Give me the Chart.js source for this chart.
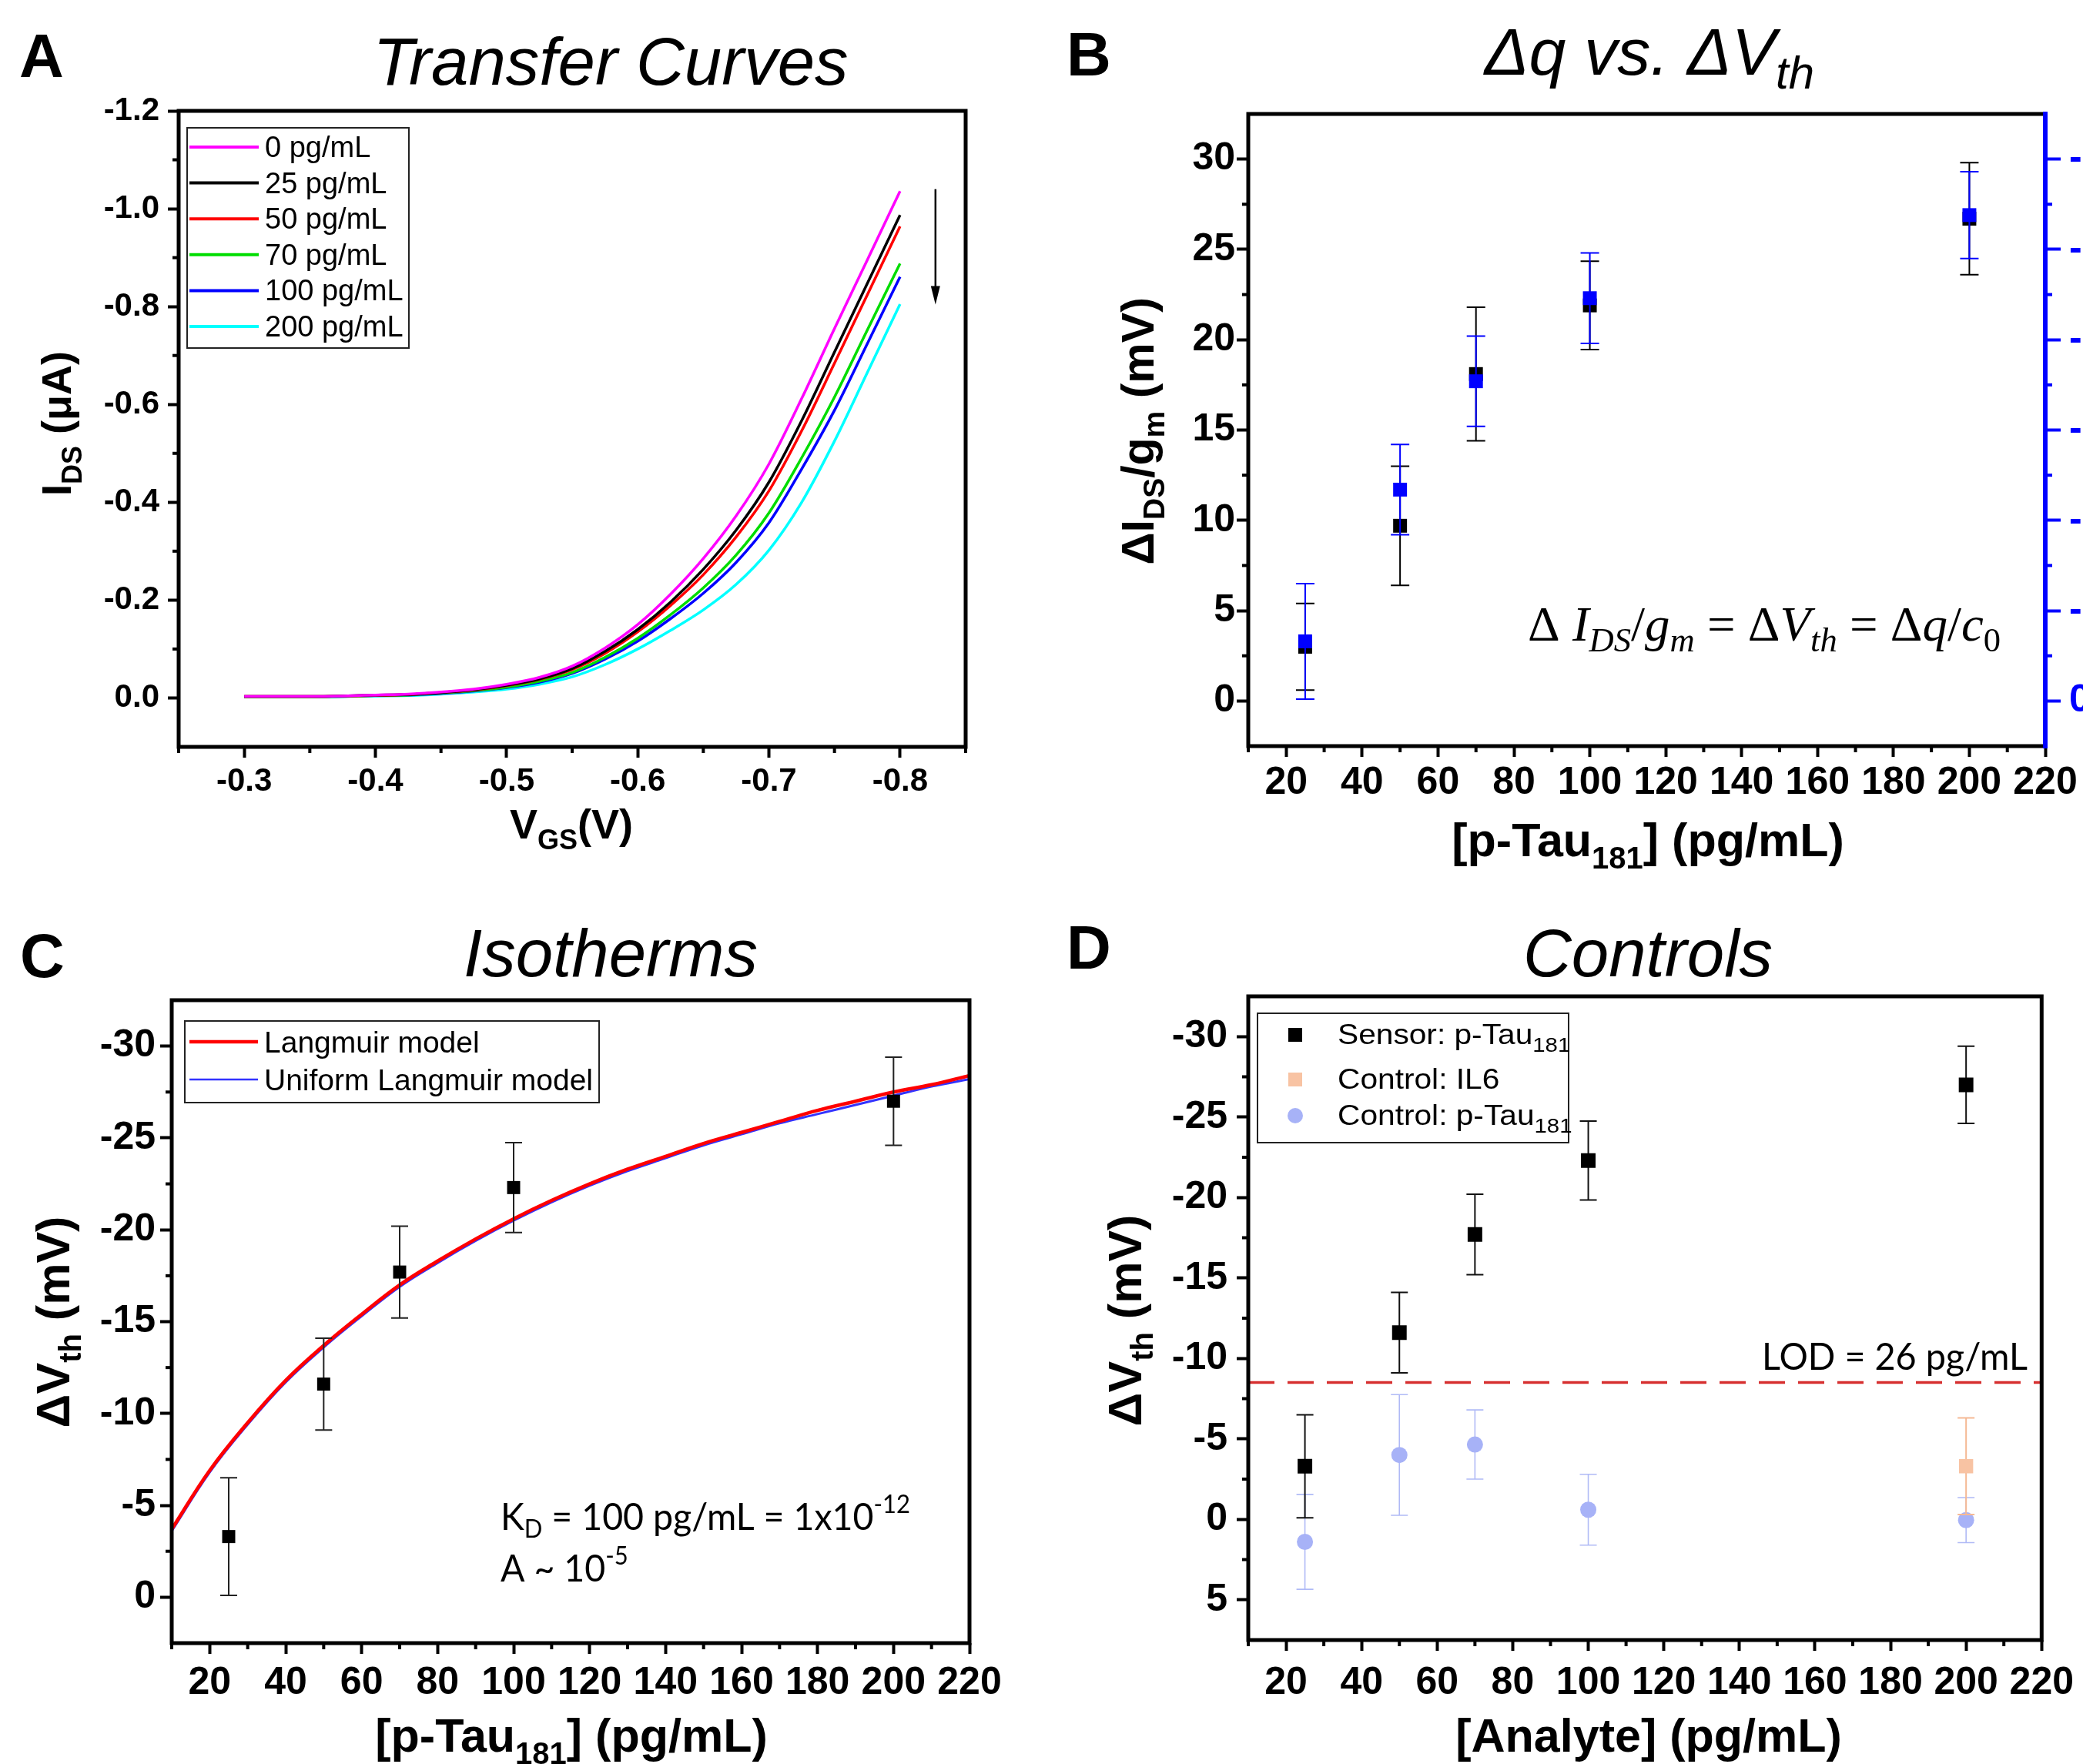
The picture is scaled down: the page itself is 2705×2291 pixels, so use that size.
<!DOCTYPE html>
<html lang="en">
<head>
  <meta charset="UTF-8" />
  <title>p-Tau181 sensor: transfer curves, isotherms and controls</title>
  <script src="https://cdn.jsdelivr.net/npm/chart.js"></script>
  <style>
    html, body { margin: 0; padding: 0; background: #fff; }
    body { width: 2705px; height: 2291px; position: relative; overflow: hidden; }
    canvas { position: absolute; }
  </style>
</head>
<body>
  <canvas id="panel-a" width="1352" height="1150" style="left:0;top:0"></canvas>
  <canvas id="panel-b" width="1353" height="1150" style="left:1352px;top:0"></canvas>
  <canvas id="panel-c" width="1352" height="1141" style="left:0;top:1150px"></canvas>
  <canvas id="panel-d" width="1353" height="1141" style="left:1352px;top:1150px"></canvas>

  <script>
    // ---- A: transfer curves (I_DS in uA vs V_GS in V) ----
    const vgs    = [-0.300, -0.325, -0.350, -0.375, -0.400, -0.425, -0.450, -0.475, -0.500, -0.525, -0.550,
                    -0.575, -0.600, -0.625, -0.650, -0.675, -0.700, -0.725, -0.750, -0.775, -0.800];
    const ids0   = [-0.003, -0.003, -0.003, -0.004, -0.006, -0.008, -0.012, -0.018, -0.028, -0.042, -0.065,
                    -0.102, -0.150, -0.212, -0.285, -0.372, -0.478, -0.612, -0.755, -0.895, -1.036];
    const ids25  = [-0.003, -0.003, -0.003, -0.004, -0.006, -0.007, -0.011, -0.017, -0.026, -0.039, -0.060,
                    -0.095, -0.140, -0.196, -0.263, -0.343, -0.441, -0.567, -0.707, -0.847, -0.987];
    const ids50  = [-0.003, -0.003, -0.003, -0.004, -0.005, -0.007, -0.011, -0.016, -0.025, -0.038, -0.058,
                    -0.091, -0.135, -0.189, -0.252, -0.329, -0.423, -0.546, -0.684, -0.824, -0.964];
    const ids70  = [-0.002, -0.002, -0.002, -0.003, -0.005, -0.006, -0.010, -0.015, -0.022, -0.034, -0.052,
                    -0.083, -0.122, -0.170, -0.225, -0.292, -0.378, -0.491, -0.615, -0.752, -0.888];
    const ids100 = [-0.002, -0.002, -0.002, -0.003, -0.005, -0.006, -0.009, -0.014, -0.021, -0.032, -0.050,
                    -0.079, -0.116, -0.162, -0.214, -0.277, -0.358, -0.468, -0.588, -0.724, -0.861];
    const ids200 = [-0.002, -0.002, -0.002, -0.003, -0.004, -0.005, -0.008, -0.012, -0.018, -0.028, -0.043,
                    -0.068, -0.100, -0.138, -0.180, -0.232, -0.302, -0.400, -0.525, -0.665, -0.805];
    const curveLabels = ["0 pg/mL", "25 pg/mL", "50 pg/mL", "70 pg/mL", "100 pg/mL", "200 pg/mL"];
    const curveColors = ["#ff00ff", "#000000", "#ff0000", "#00dd00", "#0000ff", "#00ffff"];
    const vgsTicks = [-0.3, -0.4, -0.5, -0.6, -0.7, -0.8];
    const vgsMinor = [-0.25, -0.35, -0.45, -0.55, -0.65, -0.75, -0.85];
    const idsTicks = [-1.2, -1.0, -0.8, -0.6, -0.4, -0.2, 0.0];
    const idsMinor = [-1.1, -0.9, -0.7, -0.5, -0.3, -0.1];
    const arrowV = -0.827, arrowFrom = -1.04, arrowTo = -0.804;

    // ---- B: dI/gm and dVth vs concentration ----
    const conc = [25, 50, 70, 100, 200];
    const idsGm    = [3.0, 9.7, 18.1, 21.9, 26.7];
    const idsGmErr = [2.4, 3.3, 3.7, 2.45, 3.1];
    const vthB     = [-3.3, -11.7, -17.7, -22.3, -26.9];
    const vthBErr  = [3.2, 2.5, 2.5, 2.5, 2.4];
    const concTicks = [20, 40, 60, 80, 100, 120, 140, 160, 180, 200, 220];
    const concMinor = [10, 30, 50, 70, 90, 110, 130, 150, 170, 190, 210];
    const bLeftTicks = [0, 5, 10, 15, 20, 25, 30];
    const bLeftMinor = [2.5, 7.5, 12.5, 17.5, 22.5, 27.5];
    const bRightTicks = [-30, -25, -20, -15, -10, -5, 0];
    const bRightMinor = [-27.5, -22.5, -17.5, -12.5, -7.5, -2.5];

    // ---- C: isotherm fits ----
    const sensorVth    = [-3.3, -11.6, -17.7, -22.3, -27.0];
    const sensorVthErr = [3.2, 2.5, 2.5, 2.45, 2.4];
    const fitConc   = [10, 20, 30, 40, 50, 60, 70, 80, 90, 100, 110, 120, 130, 140, 150, 160, 170, 180, 190, 200, 210, 220];
    const langmuir  = [-3.7, -6.9, -9.5, -11.8, -13.7, -15.4, -17.0, -18.3, -19.5, -20.6, -21.6, -22.5, -23.3, -24.0, -24.7, -25.3, -25.9, -26.5, -27.0, -27.5, -27.9, -28.4];
    const uniformLm = [-3.6, -6.8, -9.4, -11.7, -13.6, -15.3, -16.9, -18.2, -19.4, -20.5, -21.5, -22.4, -23.2, -23.9, -24.6, -25.2, -25.8, -26.3, -26.8, -27.3, -27.8, -28.2];
    const cTicks = [-30, -25, -20, -15, -10, -5, 0];
    const cMinor = [-27.5, -22.5, -17.5, -12.5, -7.5, -2.5];

    // ---- D: controls ----
    const il6Conc = [200];
    const il6Vth = [-3.3];
    const il6Err = [3.0];
    const ctrlVth = [1.4, -4.0, -4.65, -0.6, 0.05];
    const ctrlErr = [2.95, 3.75, 2.15, 2.2, 1.4];
    const lodConc = [10, 220];
    const lodVth = -8.5;
    const dTicks = [-30, -25, -20, -15, -10, -5, 0, 5];
    const dMinor = [-27.5, -22.5, -17.5, -12.5, -7.5, -2.5, 2.5];

    const SANS = "'Liberation Sans', Arial, sans-serif";
    const CALI = "Lato, 'Open Sans', sans-serif";
    const SERIF = "'Liberation Serif', 'Times New Roman', serif";
    const font = (size, style = "", fam = SANS) => `${style} ${size}px ${fam}`;
    Chart.defaults.font.family = SANS;

    const pts = (xs, ys) => xs.map((x, i) => ({ x, y: ys[i] }));

    // text in pieces, so sub/superscripts can be shifted
    function rich(ctx, segs, x, y, o = {}) {
      let w = 0;
      segs.forEach(s => { ctx.font = s.f; s.w = ctx.measureText(s.t).width; w += s.w; });
      const k = o.width ? o.width / w : (o.sx || 1);
      ctx.save();
      ctx.translate(x, y);
      if (o.rotate) ctx.rotate(o.rotate);
      ctx.scale(k, 1);
      let cx = o.align === "center" ? -w / 2 : o.align === "right" ? -w : 0;
      ctx.fillStyle = o.color || "#000";
      ctx.textAlign = "left";
      ctx.textBaseline = "alphabetic";
      segs.forEach(s => { ctx.font = s.f; ctx.fillText(s.t, cx, s.dy || 0); cx += s.w; });
      ctx.restore();
      return k;
    }

    const framePlugin = {
      id: "frame",
      afterDraw(chart, args, opts) {
        const { ctx, chartArea: a } = chart;
        ctx.save();
        (opts.minor || []).forEach(m => {
          const s = chart.scales[m.axis];
          ctx.strokeStyle = m.color || "#000";
          ctx.lineWidth = m.width || 4;
          m.values.forEach(v => {
            const p = s.getPixelForValue(v);
            ctx.beginPath();
            if (s.position === "left") { ctx.moveTo(a.left - m.len, p); ctx.lineTo(a.left, p); }
            else if (s.position === "right") { ctx.moveTo(a.right, p); ctx.lineTo(a.right + m.len, p); }
            else { ctx.moveTo(p, a.bottom); ctx.lineTo(p, a.bottom + m.len); }
            ctx.stroke();
          });
        });
        ctx.strokeStyle = "#000";
        ctx.lineWidth = 5;
        ctx.strokeRect(a.left, a.top, a.right - a.left, a.bottom - a.top);
        if (opts.rightColor) {
          ctx.strokeStyle = opts.rightColor;
          ctx.lineWidth = 6;
          ctx.beginPath();
          ctx.moveTo(a.right, a.top - 3);
          ctx.lineTo(a.right, a.bottom + 3);
          ctx.stroke();
        }
        ctx.restore();
      }
    };

    const errorBarPlugin = {
      id: "errorBars",
      beforeDatasetDraw(chart, args) {
        const ds = chart.data.datasets[args.index];
        if (!ds.errors) return;
        const xs = chart.scales[args.meta.xAxisID];
        const ys = chart.scales[args.meta.yAxisID];
        const ctx = chart.ctx;
        const c = ds.capWidth / 2;
        ctx.save();
        ctx.strokeStyle = ds.errorColor;
        ctx.lineWidth = ds.errorWidth;
        ds.data.forEach((p, i) => {
          const x = xs.getPixelForValue(p.x);
          const y1 = ys.getPixelForValue(p.y - ds.errors[i]);
          const y2 = ys.getPixelForValue(p.y + ds.errors[i]);
          ctx.beginPath();
          ctx.moveTo(x, y1); ctx.lineTo(x, y2);
          ctx.moveTo(x - c, y1); ctx.lineTo(x + c, y1);
          ctx.moveTo(x - c, y2); ctx.lineTo(x + c, y2);
          ctx.stroke();
        });
        ctx.restore();
      }
    };

    Chart.register(framePlugin, errorBarPlugin);

    function axis(o) {
      return {
        type: "linear",
        position: o.position,
        min: o.min,
        max: o.max,
        reverse: !!o.reverse,
        afterBuildTicks: s => { s.ticks = o.ticks.map(value => ({ value })); },
        afterFit: s => { if (s.isHorizontal()) s.height = o.size; else s.width = o.size; },
        grid: {
          drawOnChartArea: false,
          drawTicks: true,
          tickLength: o.tickLength || 15,
          tickWidth: 4,
          tickColor: o.color || "#000"
        },
        border: { display: false },
        ticks: {
          color: o.color || "#000",
          font: { family: SANS, weight: "bold", size: o.fontSize },
          padding: o.padding,
          autoSkip: false,
          maxRotation: 0,
          callback: o.fmt || (v => String(v))
        }
      };
    }

    function options(pad, scales, frame) {
      return {
        responsive: false,
        animation: false,
        devicePixelRatio: 1,
        events: [],
        layout: { padding: pad },
        plugins: { legend: { display: false }, tooltip: { enabled: false }, frame },
        scales
      };
    }

    const concAxis = padding => axis({
      position: "bottom", min: 10, max: 220, ticks: concTicks, size: 100,
      fontSize: 50, padding, tickLength: 14
    });

    // ================= A =================
    const idsSeries = [ids0, ids25, ids50, ids70, ids100, ids200];
    new Chart(document.getElementById("panel-a"), {
      type: "scatter",
      data: {
        datasets: idsSeries.map((ys, i) => ({
          label: curveLabels[i],
          data: pts(vgs, ys),
          showLine: true,
          borderColor: curveColors[i],
          borderWidth: 3.5,
          pointRadius: 0,
          cubicInterpolationMode: "monotone"
        }))
      },
      options: options(
        { left: 112, top: 144, right: 98, bottom: 80 },
        {
          x: axis({ position: "bottom", min: -0.85, max: -0.25, reverse: true, ticks: vgsTicks,
                    size: 100, fontSize: 42, padding: 6, tickLength: 14, fmt: v => v.toFixed(1) }),
          y: axis({ position: "left", min: -1.2, max: 0.1, reverse: true, ticks: idsTicks,
                    size: 120, fontSize: 42, padding: 11, tickLength: 14, fmt: v => v.toFixed(1) })
        },
        { minor: [{ axis: "x", values: vgsMinor, len: 8 }, { axis: "y", values: idsMinor, len: 8 }] }
      ),
      plugins: [{
        id: "decorA",
        afterDraw(chart) {
          const ctx = chart.ctx;
          const B54 = font(54, "bold"), B36 = font(36, "bold");
          rich(ctx, [{ t: "A", f: font(80, "bold") }], 25, 100);
          rich(ctx, [{ t: "Transfer Curves", f: font(87, "italic") }], 793, 110, { align: "center" });
          rich(ctx, [{ t: "V", f: B54 }, { t: "GS", f: B36, dy: 14 }, { t: "(V)", f: B54 }], 742, 1089, { align: "center" });
          rich(ctx, [{ t: "I", f: B54 }, { t: "DS", f: B36, dy: 14 }, { t: " (\u03bcA)", f: B54 }], 92, 550,
               { align: "center", rotate: -Math.PI / 2 });

          // legend
          ctx.save();
          ctx.fillStyle = "#fff";
          ctx.fillRect(243, 166, 288, 286);
          ctx.strokeStyle = "#222";
          ctx.lineWidth = 2;
          ctx.strokeRect(243, 166, 288, 286);
          chart.data.datasets.forEach((ds, i) => {
            const y = 191 + i * 46.6;
            ctx.strokeStyle = ds.borderColor;
            ctx.lineWidth = 4;
            ctx.beginPath(); ctx.moveTo(246, y); ctx.lineTo(336, y); ctx.stroke();
            rich(ctx, [{ t: ds.label, f: font(38) }], 344, y + 13);
          });

          // arrow: decreasing current with concentration
          const xs = chart.scales.x, ys = chart.scales.y;
          const ax = xs.getPixelForValue(arrowV);
          const y1 = ys.getPixelForValue(arrowFrom), y2 = ys.getPixelForValue(arrowTo);
          ctx.strokeStyle = "#000"; ctx.fillStyle = "#000"; ctx.lineWidth = 2.5;
          ctx.beginPath(); ctx.moveTo(ax, y1); ctx.lineTo(ax, y2 - 20); ctx.stroke();
          ctx.beginPath(); ctx.moveTo(ax - 6, y2 - 24); ctx.lineTo(ax + 6, y2 - 24); ctx.lineTo(ax, y2); ctx.closePath(); ctx.fill();
          ctx.restore();
        }
      }]
    });

    // ================= B =================
    new Chart(document.getElementById("panel-b"), {
      type: "scatter",
      data: {
        datasets: [
          {
            label: "dVth", data: pts(conc, vthB), yAxisID: "y1",
            pointStyle: "rect", pointRadius: 12.7, backgroundColor: "#0000ff", borderColor: "#0000ff", pointBorderWidth: 0,
            errors: vthBErr, errorColor: "#0000ff", errorWidth: 2, capWidth: 24
          },
          {
            label: "dIds/gm", data: pts(conc, idsGm), yAxisID: "y",
            pointStyle: "rect", pointRadius: 12.7, backgroundColor: "#000", borderColor: "#000", pointBorderWidth: 0,
            errors: idsGmErr, errorColor: "#000", errorWidth: 2, capWidth: 24
          }
        ]
      },
      options: options(
        { left: 149, top: 148, right: 0, bottom: 81 },
        {
          x: concAxis(4),
          y: axis({ position: "left", min: -2.5, max: 32.5, ticks: bLeftTicks, size: 120, fontSize: 50, padding: 2, tickLength: 15 }),
          y1: axis({ position: "right", min: -32.5, max: 2.5, reverse: true, ticks: bRightTicks, size: 49,
                     fontSize: 50, padding: 11, tickLength: 20, color: "#0000ff" })
        },
        {
          minor: [
            { axis: "x", values: concMinor, len: 8 },
            { axis: "y", values: bLeftMinor, len: 8 },
            { axis: "y1", values: bRightMinor, len: 9, color: "#0000ff" }
          ],
          rightColor: "#0000ff"
        }
      ),
      plugins: [{
        id: "decorB",
        afterDraw(chart) {
          const ctx = chart.ctx;
          const B61 = font(61, "bold"), B40 = font(40, "bold");
          const B59 = font(59, "bold"), B39 = font(39, "bold");
          rich(ctx, [{ t: "B", f: font(80, "bold") }], 33, 98);
          rich(ctx, [{ t: "\u0394q vs. \u0394V", f: font(86, "italic") }, { t: "th", f: font(60, "italic"), dy: 18 }],
               790, 97, { align: "center" });
          rich(ctx, [{ t: "[p-Tau", f: B61 }, { t: "181", f: B40, dy: 16 }, { t: "] (pg/mL)", f: B61 }], 788, 1112, { align: "center" });
          rich(ctx, [{ t: "\u0394I", f: B59 }, { t: "DS", f: B39, dy: 14 }, { t: "/g", f: B59 }, { t: "m", f: B39, dy: 14 },
                     { t: " (mV)", f: B59 }], 146, 560, { align: "center", rotate: -Math.PI / 2 });
          const S = font(64, "", SERIF), SI = font(64, "italic", SERIF);
          const s = font(44, "", SERIF), si = font(44, "italic", SERIF);
          rich(ctx, [
            { t: "\u0394 ", f: S }, { t: "I", f: SI }, { t: "DS", f: si, dy: 14 }, { t: "/", f: S }, { t: "g", f: SI },
            { t: "m", f: si, dy: 14 }, { t: " = ", f: S }, { t: "\u0394", f: S }, { t: "V", f: SI }, { t: "th", f: si, dy: 14 },
            { t: " = ", f: S }, { t: "\u0394", f: S }, { t: "q", f: SI }, { t: "/", f: S }, { t: "c", f: SI }, { t: "0", f: s, dy: 14 }
          ], 632, 832, { width: 614 });
        }
      }]
    });

    // ================= C =================
    new Chart(document.getElementById("panel-c"), {
      type: "scatter",
      data: {
        datasets: [
          {
            label: "data", data: pts(conc, sensorVth),
            pointStyle: "rect", pointRadius: 12, backgroundColor: "#000", borderColor: "#000", pointBorderWidth: 0,
            errors: sensorVthErr, errorColor: "#222", errorWidth: 2, capWidth: 22
          },
          {
            label: "Langmuir model", data: pts(fitConc, langmuir), showLine: true,
            borderColor: "#ff0000", borderWidth: 4.5, pointRadius: 0, tension: 0.4
          },
          {
            label: "Uniform Langmuir model", data: pts(fitConc, uniformLm), showLine: true,
            borderColor: "#3333ff", borderWidth: 3, pointRadius: 0, tension: 0.4
          }
        ]
      },
      options: options(
        { left: 103, top: 149, right: 93, bottom: 57 },
        {
          x: concAxis(8),
          y: axis({ position: "left", min: -32.5, max: 2.5, reverse: true, ticks: cTicks, size: 120, fontSize: 50, padding: 6, tickLength: 15 })
        },
        { minor: [{ axis: "x", values: concMinor, len: 8 }, { axis: "y", values: cMinor, len: 8 }] }
      ),
      plugins: [{
        id: "decorC",
        afterDraw(chart) {
          const ctx = chart.ctx;
          const B61 = font(61, "bold"), B40 = font(40, "bold");
          rich(ctx, [{ t: "C", f: font(80, "bold") }], 26, 119);
          rich(ctx, [{ t: "Isotherms", f: font(87, "italic") }], 793, 118, { align: "center" });
          rich(ctx, [{ t: "[p-Tau", f: B61 }, { t: "181", f: B40, dy: 16 }, { t: "] (pg/mL)", f: B61 }], 742, 1125, { align: "center" });
          rich(ctx, [{ t: "\u0394V", f: B61 }, { t: "th", f: B40, dy: 15 }, { t: " (mV)", f: B61 }], 90, 567,
               { align: "center", rotate: -Math.PI / 2 });

          ctx.save();
          ctx.fillStyle = "#fff";
          ctx.fillRect(240, 176, 538, 106);
          ctx.strokeStyle = "#222"; ctx.lineWidth = 2;
          ctx.strokeRect(240, 176, 538, 106);
          [chart.data.datasets[1], chart.data.datasets[2]].forEach((ds, i) => {
            const y = 203 + i * 49;
            ctx.strokeStyle = ds.borderColor;
            ctx.lineWidth = i === 0 ? 4.5 : 2.5;
            ctx.beginPath(); ctx.moveTo(246, y); ctx.lineTo(335, y); ctx.stroke();
            rich(ctx, [{ t: ds.label, f: font(39) }], 343, y + 14);
          });
          ctx.restore();

          const L = font(48, "", CALI), l = font(32, "", CALI);
          const k = rich(ctx, [{ t: "K", f: L }, { t: "D", f: l, dy: 10 }, { t: " = 100 pg/mL = 1x10", f: L }, { t: "-12", f: l, dy: -22 }],
                         650, 837, { width: 532 });
          rich(ctx, [{ t: "A ~ 10", f: L }, { t: "-5", f: l, dy: -22 }], 650, 904, { sx: k });
        }
      }]
    });

    // ================= D =================
    new Chart(document.getElementById("panel-d"), {
      type: "scatter",
      data: {
        datasets: [
          {
            label: "Sensor: p-Tau", sub: "181", data: pts(conc, sensorVth),
            pointStyle: "rect", pointRadius: 13.4, backgroundColor: "#000", borderColor: "#000", pointBorderWidth: 0,
            errors: sensorVthErr, errorColor: "#111", errorWidth: 2, capWidth: 22
          },
          {
            label: "Control: IL6", sub: "", data: pts(il6Conc, il6Vth),
            pointStyle: "rect", pointRadius: 13, backgroundColor: "#f8c3a3", borderColor: "#f8c3a3", pointBorderWidth: 0,
            errors: il6Err, errorColor: "#f5b995", errorWidth: 2, capWidth: 22
          },
          {
            label: "Control: p-Tau", sub: "181", data: pts(conc, ctrlVth),
            pointStyle: "circle", pointRadius: 10.5, backgroundColor: "#a7b2f7", borderColor: "#a7b2f7", pointBorderWidth: 0,
            errors: ctrlErr, errorColor: "#b0baf6", errorWidth: 1.6, capWidth: 22
          },
          {
            label: "LOD", data: lodConc.map(x => ({ x, y: lodVth })), showLine: true,
            borderColor: "#d62f2f", borderWidth: 3.5, borderDash: [34, 17], pointRadius: 0
          }
        ]
      },
      options: options(
        { left: 149, top: 144, right: 47, bottom: 61 },
        {
          x: concAxis(12),
          y: axis({ position: "left", min: -32.5, max: 7.5, reverse: true, ticks: dTicks, size: 120, fontSize: 50, padding: 12, tickLength: 15 })
        },
        { minor: [{ axis: "x", values: concMinor, len: 8 }, { axis: "y", values: dMinor, len: 8 }] }
      ),
      plugins: [{
        id: "decorD",
        afterDraw(chart) {
          const ctx = chart.ctx;
          const B61 = font(61, "bold"), B40 = font(40, "bold");
          rich(ctx, [{ t: "D", f: font(80, "bold") }], 33, 108);
          rich(ctx, [{ t: "Controls", f: font(87, "italic") }], 788, 118, { align: "center" });
          rich(ctx, [{ t: "[Analyte] (pg/mL)", f: B61 }], 789, 1125, { align: "center" });
          rich(ctx, [{ t: "\u0394V", f: B61 }, { t: "th", f: B40, dy: 15 }, { t: " (mV)", f: B61 }], 130, 565,
               { align: "center", rotate: -Math.PI / 2 });

          rich(ctx, [{ t: "LOD = 26 pg/mL", f: font(48, "", CALI) }], 1281, 629, { align: "right", width: 345 });

          ctx.save();
          ctx.fillStyle = "#fff";
          ctx.fillRect(281, 166, 404, 168);
          ctx.strokeStyle = "#222"; ctx.lineWidth = 2;
          ctx.strokeRect(281, 166, 404, 168);
          const rows = [194, 252, 299];
          chart.data.datasets.slice(0, 3).forEach((ds, i) => {
            const y = rows[i];
            ctx.fillStyle = ds.backgroundColor;
            if (ds.pointStyle === "circle") {
              ctx.beginPath(); ctx.arc(330, y, 10, 0, Math.PI * 2); ctx.fill();
            } else {
              ctx.fillRect(321, y - 9, 18, 18);
            }
            const segs = [{ t: ds.label, f: font(36) }];
            if (ds.sub) segs.push({ t: ds.sub, f: font(26), dy: 10 });
            rich(ctx, segs, 385, y + 12, { sx: 1.13 });
          });
          ctx.restore();
        }
      }]
    });
  </script>
</body>
</html>
